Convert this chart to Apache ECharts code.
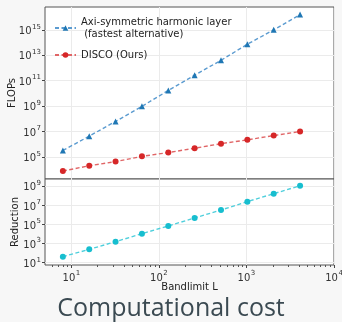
<!DOCTYPE html>
<html><head><meta charset="utf-8">
<script src="https://cdn.jsdelivr.net/npm/echarts@6/dist/echarts.min.js"></script>
<style>html,body{margin:0;padding:0;background:#f7f7f7}#c{width:342px;height:322px}</style>
</head><body><div id="c"></div>
<script>
const bandlimits = [8, 16, 32, 64, 128, 256, 512, 1024, 2048, 4096];
const axiFlops = [3.2e5, 4.3e6, 6.2e7, 9.5e8, 1.7e10, 2.7e11, 4.0e12, 7.4e13, 1.0e15, 1.6e16];
const discoFlops = [7.8e3, 2.0e4, 4.3e4, 1.1e5, 2.2e5, 4.8e5, 1.1e6, 2.2e6, 4.8e6, 1.0e7];
const reduction = [43, 250, 1.6e3, 1.1e4, 7.1e4, 4.9e5, 3.3e6, 2.5e7, 1.7e8, 1.15e9];
const xTicks = [10, 100, 1000, 10000];
const xMinorTicks = [6, 7, 8, 9, 20, 30, 40, 50, 60, 70, 80, 90, 200, 300, 400, 500, 600, 700, 800, 900, 2000, 3000, 4000, 5000, 6000, 7000, 8000, 9000];
const flopsTicks = [1e5, 1e7, 1e9, 1e11, 1e13, 1e15];
const reductionTicks = [1e1, 1e3, 1e5, 1e7, 1e9];
const seriesNames = ['Axi-symmetric harmonic layer\n (fastest alternative)', 'DISCO (Ours)', 'Reduction'];
const titleText = 'Computational cost';
const xName = 'Bandlimit L';
const yNames = ['FLOPs', 'Reduction'];

const FONT = 'DejaVu Sans';
const pair = (xs, ys) => xs.map((x, i) => [x, ys[i]]);
const pow10 = v => '{b|10}{s|' + Math.round(Math.log10(v)) + '}';
const rich = {
  b: {fontFamily: FONT, fontSize: 10, color: '#333', lineHeight: 13, verticalAlign: 'bottom'},
  s: {fontFamily: FONT, fontSize: 7, color: '#333', lineHeight: 13, verticalAlign: 'top', padding: [0, 0, 0, 0.5]}
};
const gridLine = {show: true, lineStyle: {color: '#ebebeb', width: 1}};
const nameStyle = {fontFamily: FONT, fontSize: 10, color: '#222'};

const chart = echarts.init(document.getElementById('c'), null, {renderer: 'canvas'});
chart.setOption({
  animation: false,
  backgroundColor: '#f7f7f7',
  title: {
    text: titleText, left: 'center', top: 291,
    textStyle: {fontFamily: 'Open Sans', fontSize: 25, fontWeight: 'normal', color: '#3b4a52'}
  },
  legend: {
    data: [seriesNames[0], seriesNames[1]],
    orient: 'vertical', left: 49, top: 11,
    itemWidth: 21, itemHeight: 7, itemGap: 9,
    textStyle: {fontFamily: FONT, fontSize: 10, color: '#222', lineHeight: 12}
  },
  grid: [
    {left: 45, top: 7, width: 289, height: 172, show: true, backgroundColor: '#fff', borderColor: '#555', borderWidth: 1, containLabel: false, outerBoundsMode: 'none'},
    {left: 45, top: 179, width: 289, height: 86, show: true, backgroundColor: '#fff', borderColor: '#555', borderWidth: 1, containLabel: false, outerBoundsMode: 'none'}
  ],
  xAxis: [
    {gridIndex: 0, type: 'log', logBase: 10, min: 5, max: 10000, position: 'bottom',
     axisLine: {show: false}, axisTick: {show: false, customValues: xTicks},
     axisLabel: {show: false}, splitLine: gridLine},
    {gridIndex: 1, type: 'log', logBase: 10, min: 5, max: 10000, position: 'bottom',
     name: xName, nameLocation: 'middle', nameGap: 17, nameTextStyle: nameStyle, nameMoveOverlap: false,
     axisLine: {show: false},
     axisTick: {show: true, length: 3, customValues: xTicks, lineStyle: {color: '#444'}},
     axisLabel: {customValues: xTicks, formatter: pow10, rich: rich, margin: 5, showMinLabel: true, showMaxLabel: true},
     splitLine: gridLine},
    {gridIndex: 1, type: 'log', logBase: 10, min: 5, max: 10000, position: 'bottom', offset: 0,
     axisLine: {show: false},
     axisTick: {show: true, length: 2, customValues: xMinorTicks, lineStyle: {color: '#555'}},
     axisLabel: {show: false}, splitLine: {show: false}}
  ],
  yAxis: [
    {gridIndex: 0, type: 'log', logBase: 10, min: 1820, max: 6.3e16,
     name: yNames[0], nameLocation: 'middle', nameGap: 28, nameTextStyle: nameStyle, nameMoveOverlap: false,
     axisLine: {show: false},
     axisTick: {show: true, length: 3, customValues: flopsTicks, lineStyle: {color: '#444'}},
     axisLabel: {customValues: flopsTicks, formatter: pow10, rich: rich, margin: 4},
     splitLine: gridLine},
    {gridIndex: 1, type: 'log', logBase: 10, min: 5.75, max: 5.9e9,
     name: yNames[1], nameLocation: 'middle', nameGap: 25, nameTextStyle: nameStyle, nameMoveOverlap: false,
     axisLine: {show: false},
     axisTick: {show: true, length: 3, customValues: reductionTicks, lineStyle: {color: '#444'}},
     axisLabel: {customValues: reductionTicks, formatter: pow10, rich: rich, margin: 4},
     splitLine: gridLine}
  ],
  series: [
    {name: seriesNames[0], type: 'line', xAxisIndex: 0, yAxisIndex: 0,
     data: pair(bandlimits, axiFlops), symbol: 'triangle', symbolSize: 6,
     itemStyle: {color: '#1f77b4'},
     lineStyle: {color: '#5b9bd0', width: 1.4, type: [4, 2.5]}},
    {name: seriesNames[1], type: 'line', xAxisIndex: 0, yAxisIndex: 0,
     data: pair(bandlimits, discoFlops), symbol: 'circle', symbolSize: 6,
     itemStyle: {color: '#d62728'},
     lineStyle: {color: '#e06566', width: 1.4, type: [4, 2.5]}},
    {name: seriesNames[2], type: 'line', xAxisIndex: 1, yAxisIndex: 1,
     data: pair(bandlimits, reduction), symbol: 'circle', symbolSize: 6,
     itemStyle: {color: '#17becf'},
     lineStyle: {color: '#4fcfdc', width: 1.4, type: [4, 2.5]}}
  ]
});
</script></body></html>
